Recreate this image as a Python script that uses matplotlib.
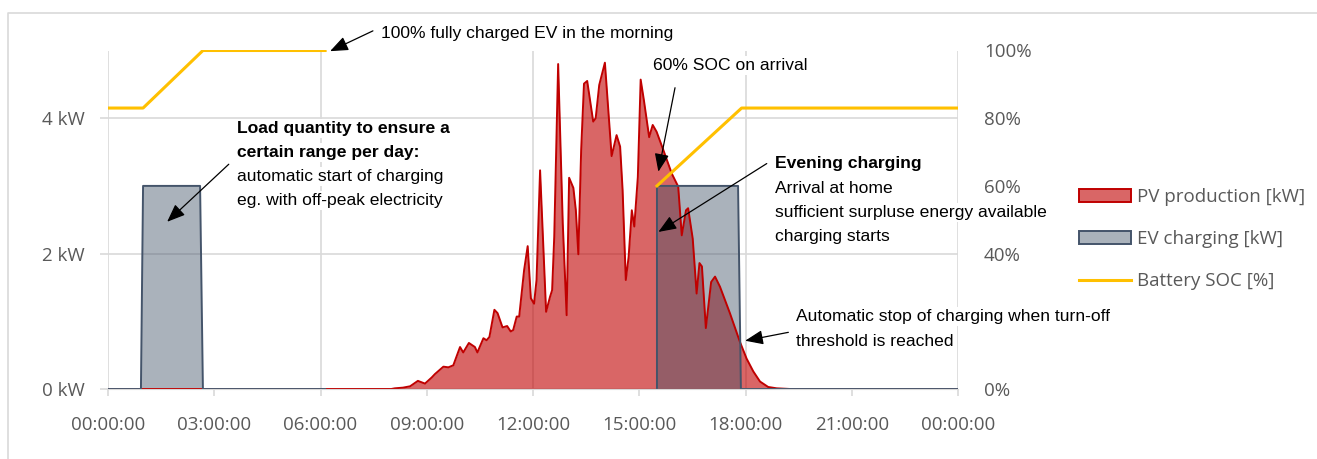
import numpy as np
import matplotlib
matplotlib.use("Agg")
import matplotlib.pyplot as plt
from matplotlib.patches import Patch
from matplotlib.lines import Line2D

# PV production over the day (hours, kW)
pv_hours = [0, 8.0, 8.10, 8.33, 8.53, 8.75, 8.95, 9.14, 9.23, 9.47, 9.61, 9.75, 9.94,
            10.03, 10.19, 10.36, 10.43, 10.60, 10.69, 10.77, 10.91,
            11.00, 11.14, 11.27, 11.37, 11.44, 11.54, 11.61, 11.75, 11.85, 11.94,
            12.03, 12.10, 12.20, 12.37, 12.48, 12.54, 12.60, 12.71, 12.84, 12.95,
            13.02, 13.14, 13.21, 13.28, 13.36, 13.44, 13.53, 13.70, 13.77, 13.87,
            14.03, 14.22, 14.36, 14.46, 14.53, 14.62, 14.70, 14.79, 14.86, 14.96,
            15.04, 15.13, 15.28, 15.38, 15.49, 15.68, 15.92,
            16.10, 16.20, 16.32, 16.38, 16.51, 16.62, 16.70, 16.77, 16.88,
            17.03, 17.14, 17.28, 17.56, 17.84,
            18.03, 18.22, 18.41, 18.64, 18.88, 19.26, 24]
pv_kw = [0, 0, 0.01, 0.02, 0.04, 0.12, 0.08, 0.17, 0.22, 0.33, 0.32, 0.35, 0.62,
         0.54, 0.68, 0.62, 0.54, 0.75, 0.72, 0.77, 1.17,
         1.12, 0.91, 0.93, 0.85, 0.87, 1.07, 1.07, 1.76, 2.11, 1.34,
         1.26, 1.61, 3.23, 1.14, 1.36, 1.46, 2.25, 4.80, 2.45, 1.09,
         3.12, 2.97, 2.64, 1.99, 3.53, 4.51, 4.55, 3.95, 4.00, 4.49,
         4.82, 3.44, 3.75, 3.58, 2.94, 1.61, 1.95, 2.64, 2.40, 3.13,
         4.57, 4.27, 3.72, 3.90, 3.80, 3.53, 3.18,
         2.99, 2.27, 2.64, 2.67, 2.22, 1.41, 1.86, 1.81, 0.90,
         1.58, 1.66, 1.51, 1.12, 0.70,
         0.45, 0.26, 0.11, 0.03, 0.01, 0, 0]

# EV charging power (car away -> nan)
ev_hours = [0, 0.93, 0.99, 2.60, 2.68, 6.13, 10.0, 15.50, 15.50, 17.79, 17.87, 24]
ev_kw = [0, 0, 3, 3, 0, 0, np.nan, 0, 3, 3, 0, 0]

# battery state of charge
soc_hours = [0, 0.99, 2.68, 6.13, 10.0, 15.50, 17.89, 24]
soc_pct = [83, 83, 100, 100, np.nan, 60, 83, 83]

time_ticks = [0, 3, 6, 9, 12, 15, 18, 21, 24]
time_labels = ["00:00:00", "03:00:00", "06:00:00", "09:00:00", "12:00:00",
               "15:00:00", "18:00:00", "21:00:00", "00:00:00"]
grid_hours = [0, 6, 12, 18, 24]
kw_ticks = [0, 2, 4]
kw_labels = ["0 kW", "2 kW", "4 kW"]
pct_ticks = [0, 40, 60, 80, 100]
pct_labels = ["0%", "40%", "60%", "80%", "100%"]
legend_labels = ["PV production [kW]", "EV charging [kW]", "Battery SOC [%]"]

GREY = "#595959"
GRID = "#d9d9d9"
RED = "#c00000"
SLATE = "#44546a"
GOLD = "#ffc000"

plt.rcParams["font.family"] = ["Open Sans", "DejaVu Sans"]

fig = plt.figure(figsize=(13.17, 4.59), dpi=100)
ax = fig.add_axes([108 / 1317, 70 / 459, 850 / 1317, 338.5 / 459])
ax2 = ax.twinx()

ax.set_axisbelow(True)
ax.fill_between(pv_hours, pv_kw, color=RED, alpha=0.6, lw=0)
ax.plot(pv_hours, pv_kw, color=RED, lw=1.4)
ev = np.array(ev_kw, dtype=float)
ax.fill_between(ev_hours, ev, color=SLATE, alpha=0.45, lw=0)
ax.plot(ev_hours, ev, color=SLATE, lw=1.4)
ax2.plot(soc_hours, soc_pct, color=GOLD, lw=2.2)

ax.set_xlim(0, 24)
ax.set_ylim(0, 5)
ax2.set_ylim(0, 100)

ax.set_xticks(time_ticks, time_labels)
ax.set_yticks(kw_ticks, kw_labels)
ax2.set_yticks(pct_ticks, pct_labels)
ax.grid(axis="y", color=GRID, lw=1.2)
ax.vlines(grid_hours, 0, 1, transform=ax.get_xaxis_transform(), color=GRID, lw=1.2, zorder=0.5)

for s in ["top", "left", "right"]:
    ax.spines[s].set_visible(False)
for s in ax2.spines.values():
    s.set_visible(False)
ax.spines["bottom"].set_color(GRID)

ax.tick_params(axis="x", length=5, width=1.2, color=GRID, pad=14.5, labelsize=13.5, labelcolor=GREY)
ax.tick_params(axis="y", length=5.8, width=1.2, color=GRID, pad=10.8, labelsize=13.5, labelcolor=GREY)
ax2.tick_params(axis="y", length=0, pad=18.7, labelsize=13.5, labelcolor=GREY)


def note(lines, x, y, step, bold=0):
    for i, line in enumerate(lines):
        ax2.annotate(line, xy=(x, y), xycoords=ax.transData, xytext=(0, -i * step),
                     textcoords="offset points", ha="left", va="center",
                     fontsize=12.6, family="Liberation Sans",
                     weight="bold" if i < bold else "normal",
                     bbox=dict(fc="white", ec="none", pad=1.5), annotation_clip=False)


def arrow(tail, tip):
    ax2.annotate("", xy=tip, xycoords=ax.transData, xytext=tail, textcoords=ax.transData,
                 arrowprops=dict(arrowstyle="-|>,head_length=0.55,head_width=0.22",
                                 color="black", lw=0.9, shrinkA=0, shrinkB=0,
                                 mutation_scale=20),
                 annotation_clip=False)


note(["100% fully charged EV in the morning"], 7.71, 5.25, 17.3)
arrow((7.48, 5.29), (6.27, 4.99))

note(["Load quantity to ensure a", "certain range per day:",
      "automatic start of charging", "eg. with off-peak electricity"], 3.64, 3.85, 17.3, bold=2)
arrow((3.41, 3.32), (1.67, 2.47))

note(["60% SOC on arrival"], 15.40, 4.78, 17.3)
arrow((16.01, 4.45), (15.54, 3.21))

note(["Evening charging", "Arrival at home",
      "sufficient surpluse energy available", "charging starts"], 18.83, 3.33, 17.6, bold=1)
arrow((18.60, 3.33), (15.54, 2.32))

note(["Automatic stop of charging when turn-off", "threshold is reached"], 19.43, 1.067, 18.0)
arrow((19.21, 0.837), (17.99, 0.713))

handles = [Patch(facecolor=(0.753, 0, 0, 0.6), edgecolor=RED, lw=1.4),
           Patch(facecolor=(0.267, 0.329, 0.416, 0.45), edgecolor=SLATE, lw=1.4),
           Line2D([], [], color=GOLD, lw=2.2)]
fig.legend(handles, legend_labels, loc="center left",
           bbox_to_anchor=(1079 / 1317, 1 - 239 / 459), frameon=False, fontsize=13.5,
           handlelength=2.77, handletextpad=0.32, labelspacing=1.3,
           borderpad=0, borderaxespad=0, labelcolor=GREY)

fig.add_artist(Line2D([8 / 1317, 8 / 1317, 1], [0, 1 - 12.5 / 459, 1 - 12.5 / 459],
                      transform=fig.transFigure, color=GRID, lw=1.2))

fig.savefig("out.png", dpi=100)
